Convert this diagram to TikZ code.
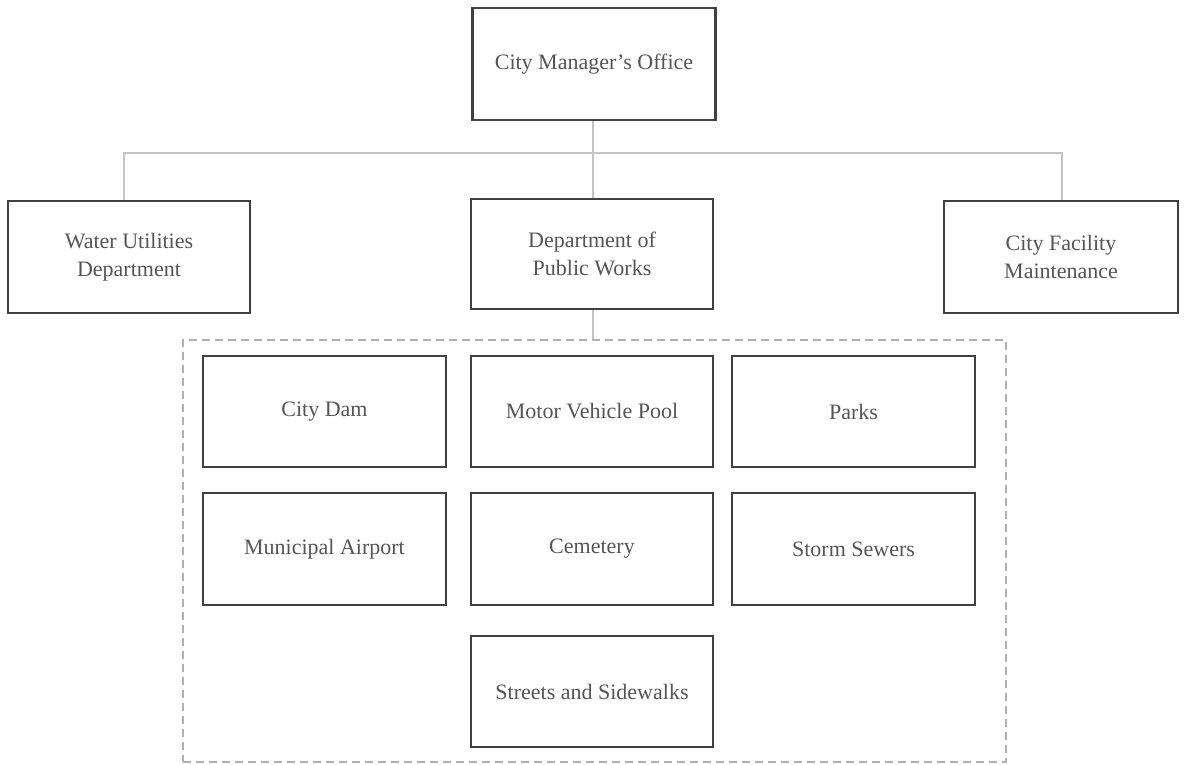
\documentclass[tikz,border=0pt]{standalone}
\usepackage{fontspec}
\setmainfont{Liberation Serif}
\usetikzlibrary{positioning}
\definecolor{boxline}{HTML}{404040}
\definecolor{boxtext}{HTML}{555555}
\definecolor{linkline}{HTML}{C4C4C4}
\definecolor{groupline}{HTML}{B0B0B0}
\begin{document}
\begin{tikzpicture}[x=1pt,y=-1pt,
  unitbox/.style={draw=boxline, line width=2.7pt, fill=white,
    text=boxtext, align=center, inner sep=0pt,
    font=\fontsize{22}{28}\selectfont},
  link/.style={draw=linkline, line width=1.1pt},
  groupbox/.style={draw=groupline, line width=1.5pt, dash pattern=on 8pt off 5pt,
    inner sep=0pt}]
\useasboundingbox (0,0) rectangle (1184,764);

% top level
\node[unitbox, minimum width=243pt, minimum height=112pt] (cmo) at (594,64) {City Manager's Office};

% second level
\node[unitbox, minimum width=242pt, minimum height=112pt] (water) at (129,257) {Water Utilities\\Department};
\node[unitbox, minimum width=242pt, minimum height=110pt] (dpw) at (592,254) {Department of\\Public Works};
\node[unitbox, minimum width=234pt, minimum height=112pt] (cfm) at (1061,257) {City Facility\\Maintenance};

% public works group
\node[groupbox, minimum width=823pt, minimum height=422pt] (group) at (594.5,551) {};

\node[unitbox, minimum width=243pt, minimum height=111pt] (dam) at (324.5,411.5) {City Dam};
\node[unitbox, minimum width=242pt, minimum height=111pt] (motor) at (592,411.5) {Motor Vehicle Pool};
\node[unitbox, minimum width=243pt, minimum height=111pt] (parks) at (853.5,411.5) {Parks};

\node[unitbox, minimum width=243pt, minimum height=112pt] (airport) at (324.5,549) {Municipal Airport};
\node[unitbox, minimum width=242pt, minimum height=112pt] (cemetery) at (592,549) {Cemetery};
\node[unitbox, minimum width=243pt, minimum height=112pt] (sewers) at (853.5,549) {Storm Sewers};

\node[unitbox, minimum width=242pt, minimum height=111pt] (streets) at (592,691.5) {Streets and Sidewalks};

% connectors
\coordinate (bar) at (593,153);
\draw[link] ([xshift=-1pt]cmo.south) -- (bar);
\draw[link] ([xshift=-5pt]water.north) |- (bar) -| ([xshift=1pt]cfm.north);
\draw[link] (bar) -- ([xshift=1pt]dpw.north);
\draw[link] ([xshift=1pt]dpw.south) -- ([xshift=1pt]dpw.south |- group.north);
\end{tikzpicture}
\end{document}
